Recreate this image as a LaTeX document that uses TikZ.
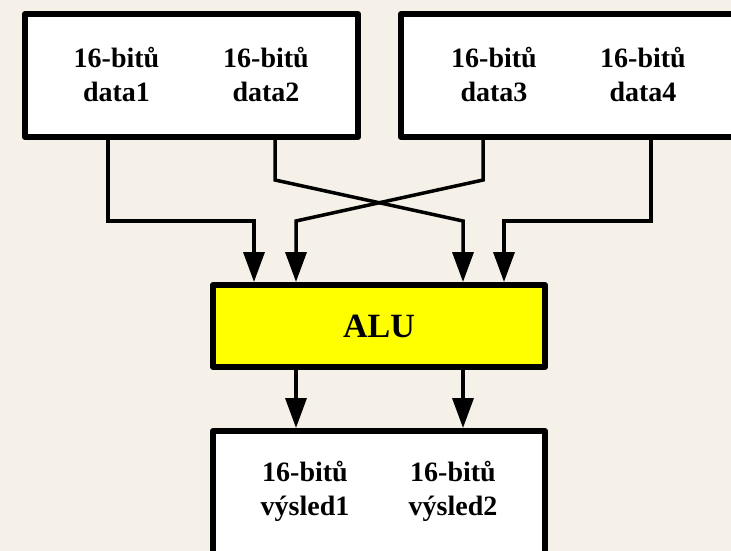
\documentclass[tikz,border=0pt]{standalone}
\usepackage{fontspec}
\setmainfont{Liberation Serif}
\usetikzlibrary{arrows.meta}
\definecolor{paper}{RGB}{245,241,232}
\definecolor{alufill}{RGB}{255,255,0}
\tikzset{
  unitbox/.style={draw=black, line width=6pt, rectangle, inner sep=0pt, line join=round},
  label/.style={align=center, font=\fontsize{28}{34}\selectfont\bfseries, inner sep=0pt},
  conn/.style={line width=3.5pt, line join=miter},
  feed/.style={conn, -{Triangle[length=30pt, width=21pt]}}
}
\begin{document}
\begin{tikzpicture}[x=1pt, y=-1pt]
  \useasboundingbox (0,0) rectangle (731,551);
  \clip (0,0) rectangle (731,551);
  \fill[paper] (0,0) rectangle (731,551);

  % operand registers
  \node[unitbox, fill=white, minimum width=333pt, minimum height=123pt] (d12) at (191.5,75.5) {};
  \node[unitbox, fill=white, minimum width=359pt, minimum height=123pt] (d34) at (580.5,75.5) {};
  \node[label] (t1) at (116.5,74) {16-bitů\\data1};
  \node[label] (t2) at (266,74) {16-bitů\\data2};
  \node[label] (t3) at (494,74) {16-bitů\\data3};
  \node[label] (t4) at (643,74) {16-bitů\\data4};

  % arithmetic unit
  \node[unitbox, fill=alufill, minimum width=332pt, minimum height=82pt] (alu) at (379,326) {};
  \node[label, font=\fontsize{34}{40}\selectfont\bfseries] (alut) at (379,326) {ALU};

  % result register
  \node[unitbox, fill=white, minimum width=332pt, minimum height=160pt] (res) at (379,511) {};
  \node[label] (r1) at (305,491) {16-bitů\\výsled1};
  \node[label] (r2) at (453,491) {16-bitů\\výsled2};

  % bus columns
  \coordinate (s1) at (108,0);
  \coordinate (s2) at (275,0);
  \coordinate (s3) at (483,0);
  \coordinate (s4) at (651,0);
  \coordinate (a1) at (254,0);
  \coordinate (a2) at (296,0);
  \coordinate (a3) at (463,0);
  \coordinate (a4) at (504,0);
  \coordinate (hi) at (0,180);
  \coordinate (lo) at (0,221);

  % inputs into the ALU
  \draw[feed] (s1 |- d12.south) |- (a1 |- lo) -- (a1 |- alu.north);
  \draw[feed] (s2 |- d12.south) -- (s2 |- hi) -- (a3 |- lo) -- (a3 |- alu.north);
  \draw[feed] (s3 |- d34.south) -- (s3 |- hi) -- (a2 |- lo) -- (a2 |- alu.north);
  \draw[feed] (s4 |- d34.south) |- (a4 |- lo) -- (a4 |- alu.north);

  % outputs into the result register
  \draw[feed] (a2 |- alu.south) -- (a2 |- res.north);
  \draw[feed] (a3 |- alu.south) -- (a3 |- res.north);
\end{tikzpicture}
\end{document}
